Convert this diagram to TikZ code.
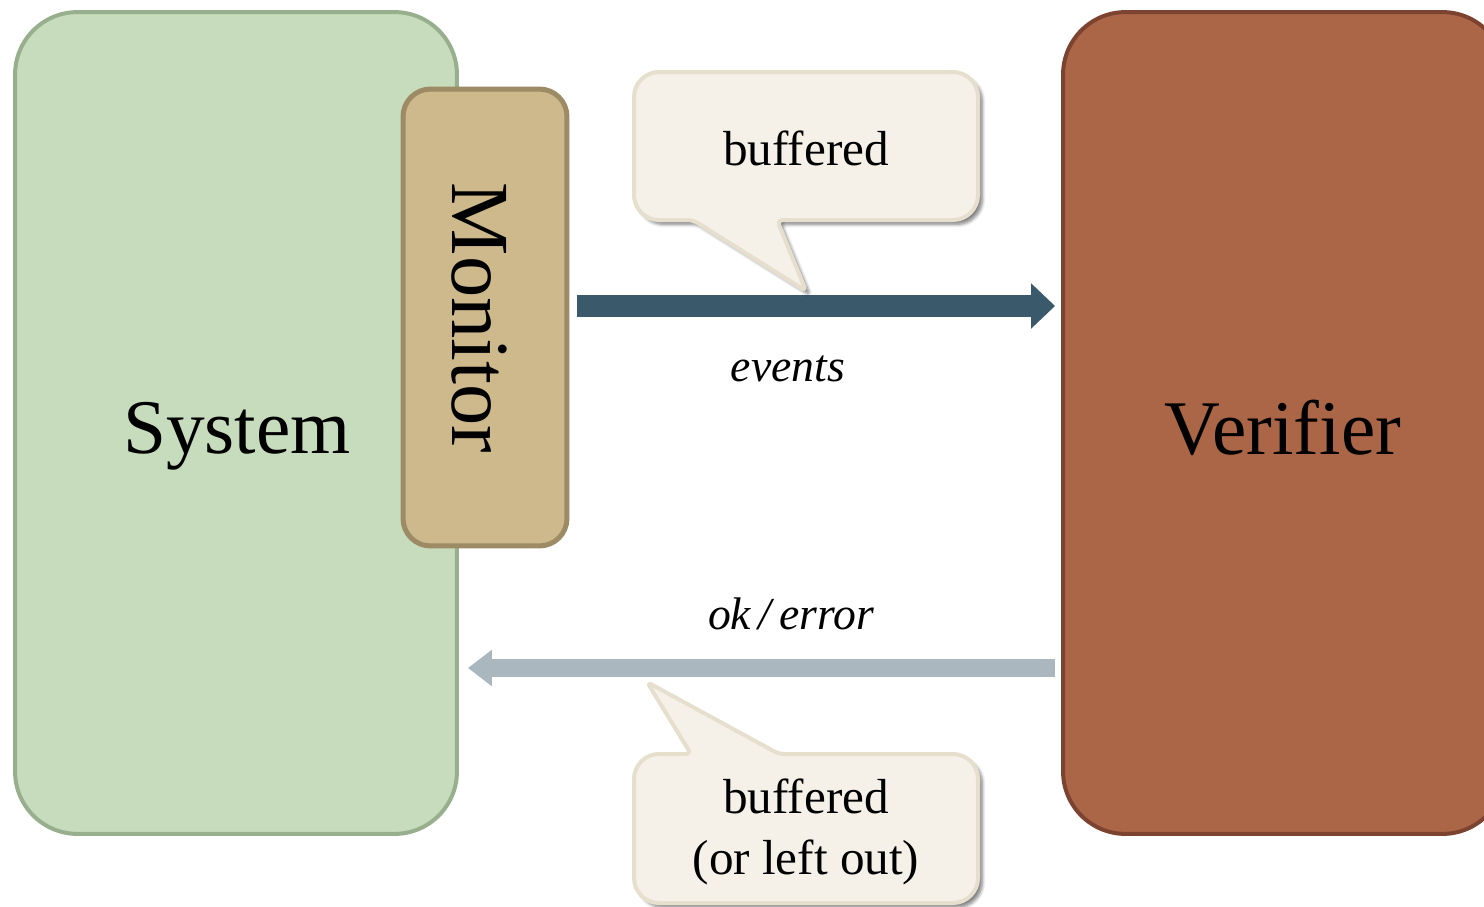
\documentclass[tikz,border=0pt]{standalone}
\usepackage{fontspec}
\setmainfont{Liberation Serif}
\usetikzlibrary{arrows.meta,shadows.blur}

\definecolor{sysfill}{HTML}{C6DCBC}
\definecolor{sysline}{HTML}{97AF8C}
\definecolor{monfill}{HTML}{CDB98B}
\definecolor{monline}{HTML}{9D8B65}
\definecolor{verfill}{HTML}{AB6647}
\definecolor{verline}{HTML}{7B4330}
\definecolor{calfill}{HTML}{F5F1E9}
\definecolor{calline}{HTML}{E6DFCD}
\definecolor{evtcol}{HTML}{3A5A6B}
\definecolor{retcol}{HTML}{AAB7BE}

\tikzset{
  block/.style={draw, line width=0.08cm, inner sep=0pt},
  sysbox/.style={block, fill=sysfill, draw=sysline, rounded corners=1.25cm,
    minimum width=8.84cm, minimum height=16.44cm},
  monbox/.style={block, fill=monfill, draw=monline, line width=0.1cm, rounded corners=0.55cm,
    minimum width=3.28cm, minimum height=9.14cm},
  verbox/.style={block, fill=verfill, draw=verline, rounded corners=1.25cm,
    minimum width=8.84cm, minimum height=16.44cm},
  bigtext/.style={font=\fontsize{44}{52}\selectfont},
  montextstyle/.style={font=\fontsize{47}{52}\selectfont},
  calltext/.style={font=\fontsize{28}{35}\selectfont, align=center},
  flowlabel/.style={font=\fontsize{26}{30}\selectfont\itshape},
  callout/.style={fill=calfill, draw=calline, line width=0.08cm, line join=round,
    blur shadow={shadow xshift=2.5pt, shadow yshift=-2.5pt, shadow opacity=50, shadow blur steps=6}},
  evtarrow/.style={draw=evtcol, line width=0.44cm,
    -{Triangle[length=0.48cm, width=0.88cm]}},
  retarrow/.style={draw=retcol, line width=0.36cm,
    -{Triangle[length=0.48cm, width=0.7cm]}},
}

\begin{document}
\begin{tikzpicture}[x=0.02cm, y=-0.02cm]
  \useasboundingbox (0,0) rectangle (1484,906);

  % main blocks
  \node[sysbox] (system) at (236,423) {};
  \node[bigtext] (systext) at (237,436) {System};
  \node[monbox] (monitor) at (485,317.5) {};
  \node[montextstyle, rotate=-90] (montext) at (479,318) {Monitor};
  \node[verbox] (verifier) at (1284,423) {};
  \node[bigtext] (vertext) at (1283,428) {Verifier};

  % flow heights
  \coordinate (evy) at (0,306);
  \coordinate (rety) at (0,668);

  % events: monitor -> verifier
  \draw[evtarrow, shorten <=0.16cm, shorten >=0.12cm]
    (monitor.east |- evy) -- (verifier.west |- evy);
  \node[flowlabel] (events) at (788,369) {events};

  % ok/error: verifier -> system
  \draw[retarrow, shorten <=0.12cm, shorten >=0.18cm]
    (verifier.west |- rety) -- (system.east |- rety);
  \node[flowlabel] (okerr) at (791,614) {ok\,/\,error};

  % upper speech bubble
  \draw[callout] (806,72) [rounded corners=0.5cm] -- (978,72) -- (978,220)
    [rounded corners=3pt] -- (777,220) -- (806,291) -- (693,220)
    [rounded corners=0.5cm] -- (634,220) -- (634,72) -- cycle;
  \node[calltext] (buf1) at (806,148) {buffered};

  % lower speech bubble
  \draw[callout] (806,903) [rounded corners=0.5cm] -- (634,903) -- (634,754)
    [rounded corners=3pt] -- (691,754) -- (647,682) -- (779,754)
    [rounded corners=0.5cm] -- (978,754) -- (978,903) -- cycle;
  \node[calltext] (buf2) at (806,832) {buffered\\(or left out)};
\end{tikzpicture}
\end{document}
